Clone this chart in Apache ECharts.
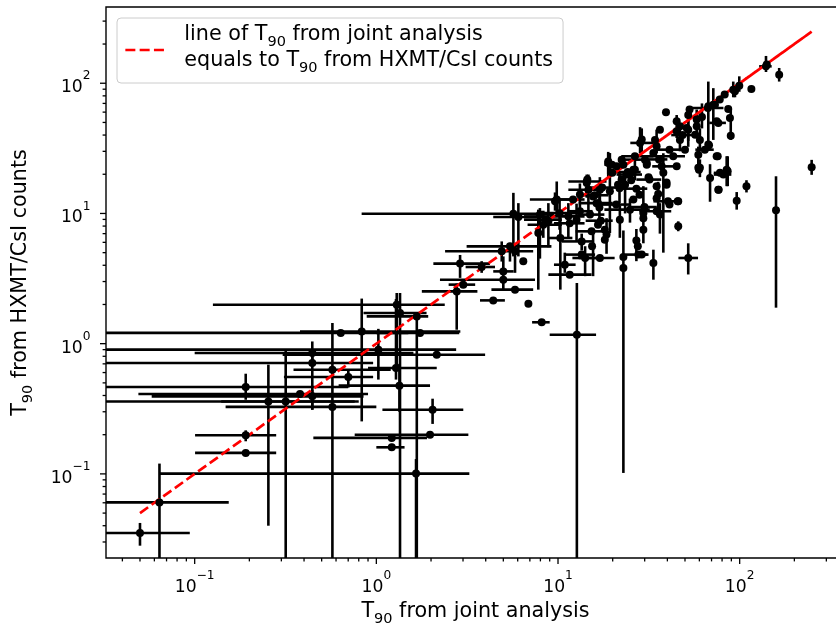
<!DOCTYPE html>
<html>
<head>
<meta charset="utf-8">
<script src="https://cdn.jsdelivr.net/npm/echarts@6/dist/echarts.min.js"></script>
<style>
  html, body { margin: 0; padding: 0; background: #fff; }
  #chart { width: 836px; height: 630px; }
</style>
</head>
<body>
<div id="chart"></div>
<script>
// T90 from the joint analysis (x) with its lower / upper bounds
const jointT90 = [0.050,0.064,0.191,0.191,0.191,0.2545,0.317,0.38,0.444,0.444,0.444,0.573,0.573,0.637,0.701,0.831,1.026,1.216,1.216,1.283,1.295,1.34,1.35,1.654,1.67,1.74,1.975,2.04,2.15,2.77,2.89,3.01,3.8,4.4,4.9,5.0,5.0,5.44,5.68,5.8,5.8,6.05,6.44,6.87,7.79,7.95,8.13,8.3,8.67,8.85,9.63,9.84,10.2,10.3,10.9,11.4,11.6,11.6,12.1,12.65,12.7,13.2,13.2,13.5,13.5,
  14.4,14.1,24.9,45.9,18.9,68.7,29.5,139.6,14.7,60.4,16.3,34.9,21.9,165,22.9,39.3,15.3,52.1,89.3,18.1,67.2,28.9,99.5,45.0,33.5,17.0,94.2,26.0,158.5,249,52.1,71.6,66.9,58.0,116,86.5,88.4,74.7,67.2,50.0,59.2,59.2,74.7,81.3,84.8,109,96.3,76.6,28.9,34.9,18.9,14.5,22.9,26.5,30.8,37.2,45.0,39.6,40.3,38.0,43.1,33.5,30.8,23.8,22.4,28.3,21.0,14.4,15.6,19.3,21.4,34.9,34.9,39.6,29.5,27.5,27.7,22.9,15.4,52.1,51.1,58,45,46.9,73.1,92.2,141,76.3,67.8,59.7,75.7,77.9,85.9,76.3,45.6,45.9,29.5,26.0,16.6,16.6,17.5,19.9,25.3,31.5,27.0,36,
  19.8,24.9,17.0,20.9,23.4,28.1,31.9,36.4,41.1,18.1,15.0,46.9,56.9,64.3,53,77.7,82.7,60.4,36.4,41.1,30.1,34.2,26.5,22.4,
  18.5,15.9,21.8,16.9,17.2,24.2,29.9,35.6,27.0,48.5,62];
const jointLo = [0.02,0.02,0.1005,0.1005,0.02,0.02,0.14,0.049,0.058,0.10,0.02,0.148,0.35,0.02,0.31,0.38,0.02,1.0,0.45,0.9,0.126,0.62,0.85,0.064,0.885,1.0,0.76,1.08,0.305,1.78,2.06,2.5,3.1,3.72,2.39,4.4,2.24,3.14,0.83,null,4.3,4.4,null,null,null,6.5,7.2,6.8,6.5,null,null,7.0,8.0,8.8,9.5,9.0,8.85,9.5,10,null,9.0,11.5,null,10.5,11.0,
  11.4,12.0,18,null,null,null,null,128,11.4,null,13,28,null,null,null,null,12.5,46,null,null,null,26.5,null,null,null,13,null,null,null,null,null,null,51.2,null,null,null,null,null,null,null,null,null,null,72,null,null,null,null,null,null,null,null,null,22.3,null,33,null,null,33.5,null,30,null,null,null,22,25,null,null,null,null,null,null,null,null,null,null,23.5,null,null,null,null,null,null,null,null,null,null,68,null,null,null,72,null,null,null,null,null,null,null,null,15,null,null,null,22,31,
  18,21,null,17,null,null,27,null,null,null,13,null,null,57,null,null,null,null,null,35,null,null,null,null,
  null,13,null,null,14.2,20,25,null,null,42,null];
const jointHi = [0.094,0.154,0.281,0.281,0.70,0.76,0.80,0.90,0.85,1.6,0.96,1.0,1.2,1.5,0.96,2.9,2.75,1.43,1.9,2.15,2.38,1.975,1.89,3.25,1.93,2.86,3.21,3.01,3.97,3.6,4.22,3.5,4.5,5.1,7.3,5.7,7.47,9.2,9.39,null,7.3,8.67,null,null,null,9.5,9.0,10.5,10.5,null,null,12.3,13.0,12.0,12.5,14.0,15.3,14,14,null,16.2,15.5,null,15.5,16.0,
  18.5,16.5,32,null,null,null,null,150,18,null,20,42,null,null,null,null,18,59,null,null,null,31.5,null,null,null,20.5,null,null,null,null,null,null,81.4,null,null,null,null,null,null,null,null,null,null,90,null,null,null,null,null,null,null,null,null,33.5,null,46,null,null,46.5,null,50,null,null,null,30,33.6,null,null,null,null,null,null,null,null,null,null,31,null,null,null,null,null,null,null,null,null,null,84,null,null,null,84,null,null,null,null,null,null,null,null,21,null,null,null,31,40,
  22.5,29,null,25,null,null,37,null,null,null,18,null,null,72,null,null,null,null,null,48,null,null,null,null,
  null,19,null,null,20,28.5,35,null,null,56,null];

// T90 from the HXMT/CsI counts (y) with its lower / upper bounds
const csiT90 = [0.0352,0.0604,0.198,0.145,0.465,0.36,0.36,0.411,0.394,0.848,0.711,0.327,0.631,1.21,0.555,1.24,0.90,0.16,0.189,0.65,1.99,0.476,1.72,0.1005,1.62,1.21,0.2,0.311,0.823,2.52,4.12,2.84,3.88,2.15,5.12,3.59,3.1,5.59,9.96,5.12,2.6,9.4,4.29,2.03,7.08,9.8,1.46,8.2,8.96,8.7,12.4,12.8,10.05,6.48,4.04,9.5,3.39,8.4,12.8,8.96,1.17,10.4,14.0,6.1,4.83,
  17.6,4.55,10.7,12.4,24.4,18.7,9.2,134.8,15.2,22.4,12.0,10.4,8.96,116,3.81,59.8,7.29,4.55,39.6,6.29,66.5,4.83,95.6,51,4.17,4.55,86.7,21.7,10.6,22.6,44.0,68.5,64.6,52.6,90.4,63.5,54.1,51,33.8,30.9,28.3,22.4,27.5,19.9,21.7,16.2,12.5,15.2,36.9,32.8,25.1,18.2,23.7,27.5,23.7,23.0,23.0,16.6,12.4,20.5,27.5,29.1,24.4,19.9,25.9,34.8,23.0,17.1,13.5,14.8,16.6,13.1,16.2,17.3,7.5,5.59,4.83,4.63,5.59,57.1,45.4,46.7,42.7,46.7,68.5,89.3,139,49.6,33.4,21.7,27.5,20.5,21.1,15.2,12.4,7.96,10.05,12.8,12.0,8.2,15.8,20.5,18.0,19.0,15.5,26,
  23.7,19.9,15.2,11.7,16.6,13.9,18.2,9.8,11.7,7.5,9.8,36.7,40.3,30.9,62.8,75,82,36.7,44,30.9,25.9,36.7,21.7,18.2,
  6.9,13.8,15.6,11.1,8.8,20.8,11.2,14.1,6.2,40,55];
const csiLo = [0.0281,0.015,0.178,null,0.371,0.040,0.015,null,0.311,0.75,0.311,null,0.015,null,0.46,0.253,0.53,0.152,null,0.53,0.65,0.3,0.015,0.015,0.015,null,null,0.242,null,1.28,3.2,null,3.5,null,4.27,2.6,null,4.27,4.68,3.5,null,4.68,null,null,2.6,4.5,1.4,6.5,null,5.5,10.5,9.5,7.5,2.6,3.5,6.5,null,null,null,6.1,0.015,null,10.5,5.2,null,
  13.2,3.3,8.5,null,20,12.3,5.9,122,10.6,19,null,null,6.5,103,0.1017,null,null,3.4,36.7,null,32.6,null,86,38,3.1,null,78,null,1.89,19.8,32.5,36.7,null,38.1,null,null,null,null,null,null,22.3,null,null,null,16.2,14.5,10.7,null,29,29,19,null,null,null,null,null,null,null,null,5.0,null,null,null,null,null,29,null,null,3.3,7.07,null,null,null,null,null,null,null,null,null,36,null,null,null,null,null,78,null,null,null,null,null,null,16.2,null,null,7.3,null,null,null,null,null,null,null,null,null,null,
  null,null,12,null,10,null,null,7,null,null,null,30,null,null,null,null,null,30,null,null,null,null,18,null,
  4.9,null,12,8.8,null,null,null,10.5,4.3,null,45];
const csiHi = [0.042,0.12,0.216,null,0.588,0.69,0.90,null,0.443,1.04,0.80,null,1.44,null,0.63,2.22,1.30,0.17,null,2.2,2.45,0.7,2.45,0.13,1.75,null,null,0.378,null,2.9,4.8,null,4.3,null,6.1,4.68,null,5.94,14.4,5.9,null,12.0,null,null,10.7,11.0,1.53,10.5,null,12,14.5,17.6,13,9.5,5.0,12,null,null,null,11.9,2.92,null,17,7.0,null,
  19.9,5.6,13,null,29.7,23.9,16.2,162,19.9,26,null,null,11.5,131,7.4,null,null,5.9,64,null,103,null,113,57,5.27,null,96,null,19.3,25.8,55.5,91.7,null,62.8,null,null,null,null,null,null,32.6,null,null,null,27.5,18,14.6,null,45,44,29,null,null,null,null,null,null,null,null,29,null,null,null,null,null,46,null,null,7.5,29.1,null,null,null,null,null,null,null,null,null,66,null,null,null,null,null,103,null,null,null,null,null,null,27.5,null,null,8.7,null,null,null,null,null,null,null,null,null,null,
  null,null,19,null,20,null,null,12,null,null,null,44,null,null,null,null,null,45,null,null,null,null,26,null,
  9.2,null,21,14.5,null,null,null,17.5,7.6,null,70];

// axis ranges and log ticks
const xRange = [0.0325, 380];
const yRange = [0.0226, 385];
const decadeTicks = [0.1, 1, 10, 100];
const decadeExponents = ['\u22121', '0', '1', '2'];
const minorTicks = [0.03,0.04,0.05,0.06,0.07,0.08,0.09,0.2,0.3,0.4,0.5,0.6,0.7,0.8,0.9,2,3,4,5,6,7,8,9,20,30,40,50,60,70,80,90,200,300];

const FONT = 'DejaVu Sans';
const LABEL_SIZE = 20.7;
const TICK_SIZE = 17.2;

const chart = echarts.init(document.getElementById('chart'), null, { renderer: 'canvas' });

const points = jointT90.map((x, i) => [x, csiT90[i]]);
const bars = jointT90.map((x, i) => {
  const y = csiT90[i];
  return [x, y,
    jointLo[i] == null ? x : jointLo[i], jointHi[i] == null ? x : jointHi[i],
    csiLo[i] == null ? y : csiLo[i], csiHi[i] == null ? y : csiHi[i]];
});
// y = x guide through the sample abscissae, in sample order
const guide = jointT90.map(x => [x, x]);

function inside(v, r) { return v >= r[0] && v <= r[1]; }
const xTickData = decadeTicks.map(v => [v, yRange[0], 1])
  .concat(minorTicks.map(v => [v, yRange[0], 0])).filter(d => inside(d[0], xRange));
const yTickData = decadeTicks.map(v => [xRange[0], v, 1])
  .concat(minorTicks.map(v => [xRange[0], v, 0])).filter(d => inside(d[1], yRange));

function decadeLabel(v) {
  const e = Math.log10(v);
  for (let i = 0; i < decadeTicks.length; i++) {
    if (Math.abs(Math.log10(decadeTicks[i]) - e) < 1e-6) {
      return '{b|10}{s|' + decadeExponents[i] + '}';
    }
  }
  return '';
}

const tickRich = {
  b: { fontFamily: FONT, fontSize: TICK_SIZE, color: '#000', lineHeight: 26, verticalAlign: 'bottom' },
  s: { fontFamily: FONT, fontSize: 12.2, color: '#000', lineHeight: 12, verticalAlign: 'top' }
};
const nameRich = {
  t: { fontFamily: FONT, fontSize: LABEL_SIZE, color: '#000', lineHeight: 26, verticalAlign: 'top' },
  s: { fontFamily: FONT, fontSize: 14.5, color: '#000', lineHeight: 16, verticalAlign: 'bottom' }
};

const errStyle = { stroke: '#000', lineWidth: 2.6 };

const option = {
  animation: false,
  backgroundColor: '#fff',
  grid: {
    left: 106, top: 7, width: 739, height: 551,
    show: true, borderColor: '#000', borderWidth: 1.4, backgroundColor: 'transparent',
    outerBoundsMode: 'none', containLabel: false
  },
  legend: {
    left: 117, top: 18, orient: 'vertical',
    padding: [6, 10, 7, 7],
    itemWidth: 42, itemHeight: 14,
    selectedMode: false,
    backgroundColor: 'rgba(255,255,255,0.8)',
    borderColor: '#cccccc', borderWidth: 1, borderRadius: 4,
    itemStyle: { opacity: 0 },
    lineStyle: { color: '#ff0000', width: 2.7, type: [10, 4.3], cap: 'butt', opacity: 1 },
    data: ['guide'],
    formatter: () => '{t|line of T}{s|90}{t| from joint analysis}\n{t|equals to T}{s|90}{t| from HXMT/CsI counts}',
    textStyle: { padding: [0, 0, 0, 12], rich: nameRich }
  },
  xAxis: {
    type: 'log', logBase: 10, min: xRange[0], max: xRange[1],
    axisLine: { show: false }, axisTick: { show: false }, splitLine: { show: false },
    axisLabel: { formatter: decadeLabel, margin: 12, rich: tickRich, showMinLabel: false, showMaxLabel: false },
    name: '{t|T}{s|90}{t| from joint analysis}',
    nameLocation: 'middle', nameGap: 41,
    nameTextStyle: { rich: nameRich }
  },
  yAxis: {
    type: 'log', logBase: 10, min: yRange[0], max: yRange[1],
    axisLine: { show: false }, axisTick: { show: false }, splitLine: { show: false },
    axisLabel: { formatter: decadeLabel, margin: 15.5, rich: tickRich, showMinLabel: false, showMaxLabel: false },
    name: '{t|T}{s|90}{t| from HXMT/CsI counts}',
    nameLocation: 'middle', nameGap: 70, nameRotate: 90,
    nameTextStyle: { rich: nameRich }
  },
  series: [
    {
      type: 'custom', name: 'errors', silent: true, clip: true, z: 2,
      data: bars,
      encode: { x: 0, y: 1 },
      renderItem: (params, api) => {
        const x = api.value(0), y = api.value(1);
        const xl = api.value(2), xh = api.value(3), yl = api.value(4), yh = api.value(5);
        const children = [];
        if (xl !== xh) {
          const a = api.coord([xl, y]), b = api.coord([xh, y]);
          children.push({ type: 'line', shape: { x1: a[0], y1: a[1], x2: b[0], y2: b[1] }, style: errStyle });
        }
        if (yl !== yh) {
          const a = api.coord([x, yl]), b = api.coord([x, yh]);
          children.push({ type: 'line', shape: { x1: a[0], y1: a[1], x2: b[0], y2: b[1] }, style: errStyle });
        }
        return { type: 'group', children };
      }
    },
    {
      type: 'line', name: 'guide', data: guide, symbol: 'none', silent: true, clip: true, z: 3,
      lineStyle: { color: '#ff0000', width: 2.7, type: [10, 4.3], cap: 'butt' },
      itemStyle: { color: '#ff0000' }
    },
    {
      type: 'scatter', name: 'points', data: points, symbol: 'circle', symbolSize: 8, silent: true, z: 4,
      itemStyle: { color: '#000', opacity: 1 }
    },
    {
      type: 'custom', name: 'xticks', silent: true, clip: false, z: 5,
      data: xTickData, encode: { x: 0, y: 1 },
      renderItem: (params, api) => {
        const p = api.coord([api.value(0), api.value(1)]);
        const len = api.value(2) ? 6 : 3.4;
        return { type: 'line', shape: { x1: p[0], y1: p[1], x2: p[0], y2: p[1] + len }, style: { stroke: '#000', lineWidth: 1.3 } };
      }
    },
    {
      type: 'custom', name: 'yticks', silent: true, clip: false, z: 5,
      data: yTickData, encode: { x: 0, y: 1 },
      renderItem: (params, api) => {
        const p = api.coord([api.value(0), api.value(1)]);
        const len = api.value(2) ? 6 : 3.4;
        return { type: 'line', shape: { x1: p[0], y1: p[1], x2: p[0] - len, y2: p[1] }, style: { stroke: '#000', lineWidth: 1.3 } };
      }
    }
  ]
};

chart.setOption(option);
</script>
</body>
</html>
